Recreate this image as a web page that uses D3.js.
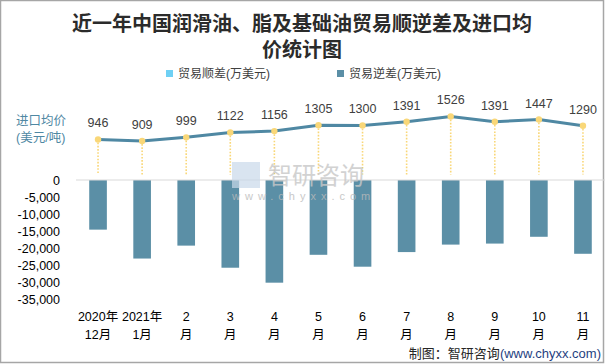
<!DOCTYPE html>
<html><head><meta charset="utf-8">
<script src="https://cdn.jsdelivr.net/npm/d3@7"></script>
<style>
html,body{margin:0;padding:0;background:#fff;}
svg{display:block;}
text{font-family:"Liberation Sans","Noto Sans CJK SC",sans-serif;}
</style></head>
<body>
<script>
const categories = ["2020年|12月","2021年|1月","2|月","3|月","4|月","5|月","6|月","7|月","8|月","9|月","10|月","11|月"];
const surplus = [0,0,0,0,0,0,0,0,0,0,0,0];
const deficit = [-14600,-23100,-19300,-25800,-30200,-22000,-25500,-21200,-19000,-18700,-16700,-21700];
const price = [946,909,999,1122,1156,1305,1300,1391,1526,1391,1447,1290];
const yTicks = [0,-5000,-10000,-15000,-20000,-25000,-30000,-35000];

const W = 605, H = 364;
const CJK = "'Liberation Sans','Noto Sans CJK SC',sans-serif";
const svg = d3.select("body").append("svg").attr("width", W).attr("height", H);
svg.append("rect").attr("x",0.5).attr("y",0.5).attr("width",W-2).attr("height",H-2)
  .attr("fill","#fff").attr("stroke","#a6a6a6").attr("stroke-width",1.5);

// title
const title = svg.append("text").attr("text-anchor","middle")
  .style("font-family",CJK).style("font-weight","bold")
  .style("font-size","20px").attr("fill","#2b2b2b");
title.append("tspan").attr("x",302).attr("y",31).text("近一年中国润滑油、脂及基础油贸易顺逆差及进口均");
title.append("tspan").attr("x",302).attr("y",57).text("价统计图");

// legend
const legend = [["贸易顺差(万美元)","#6fd0f4",166],["贸易逆差(万美元)","#5b8fa6",337]];
legend.forEach(([t,c,x])=>{
  svg.append("rect").attr("x",x).attr("y",70).attr("width",7).attr("height",7).attr("fill",c);
  svg.append("text").attr("x",x+12).attr("y",78).attr("fill","#404040")
    .style("font-family",CJK).style("font-size","12px").text(t);
});

const x = d3.scaleBand().domain(categories).range([76,605]).paddingInner(0.6).paddingOuter(0.3);
const y = d3.scaleLinear().domain([-35000,0]).range([299,180]);
const yL = d3.scaleLinear().domain([0,2000]).range([177,97.6]);

const loc = d3.formatLocale({decimal:".",thousands:",",grouping:[3],currency:["",""],minus:"-"});
const fmt = loc.format(",");

// y axis (labels only)
const yAxis = d3.axisLeft(y).tickValues(yTicks).tickFormat(fmt).tickSize(0).tickPadding(0);
const ga = svg.append("g").attr("transform","translate(60,0)").call(yAxis);
ga.select(".domain").remove();
ga.selectAll("text").attr("fill","#000").style("font-size","12.5px")
  .style("font-family","'Liberation Sans',sans-serif");

// bars
svg.append("g").selectAll("rect.d").data(deficit).join("rect")
  .attr("x",(d,i)=>x(categories[i])).attr("width",x.bandwidth())
  .attr("y",d=>y(Math.max(0,d))).attr("height",d=>Math.abs(y(d)-y(0)))
  .attr("fill","#5b8fa6");
svg.append("g").selectAll("rect.s").data(surplus).join("rect")
  .attr("x",(d,i)=>x(categories[i])).attr("width",x.bandwidth())
  .attr("y",d=>y(Math.max(0,d))).attr("height",d=>Math.abs(y(d)-y(0)))
  .attr("fill","#6fd0f4");

// zero line
svg.append("line").attr("x1",76).attr("x2",605).attr("y1",y(0)).attr("y2",y(0))
  .attr("stroke","#d9d9d9").attr("stroke-width",1.2);

// x labels
const gx = svg.append("g");
categories.forEach((c,i)=>{
  const [a,b] = c.split("|");
  const cx = x(c)+x.bandwidth()/2;
  const t = gx.append("text").attr("text-anchor","middle").attr("fill","#000")
    .style("font-size","12.5px");
  t.append("tspan").attr("x",cx).attr("y",321).text(a);
  t.append("tspan").attr("x",cx).attr("y",339).text(b);
});

// drop lines
const cxs = categories.map(c=>x(c)+x.bandwidth()/2);
svg.append("g").selectAll("line").data(price).join("line")
  .attr("x1",(d,i)=>cxs[i]).attr("x2",(d,i)=>cxs[i])
  .attr("y1",d=>yL(d)).attr("y2",yL(0)-2.5)
  .attr("stroke","#f9d778").attr("stroke-width",1.6).attr("stroke-dasharray","1.6,1.6");

// line
const line = d3.line().x((d,i)=>cxs[i]).y(d=>yL(d));
svg.append("path").datum(price).attr("d",line).attr("fill","none")
  .attr("stroke","#4f88a3").attr("stroke-width",3);
svg.append("g").selectAll("circle").data(price).join("circle")
  .attr("cx",(d,i)=>cxs[i]).attr("cy",d=>yL(d)).attr("r",3.2).attr("fill","#f9d778");
svg.append("g").selectAll("text").data(price).join("text")
  .attr("x",(d,i)=>cxs[i]).attr("y",d=>yL(d)-12).attr("text-anchor","middle")
  .attr("fill","#404040").style("font-size","12.5px").text(d=>d);

// left label
const ll = svg.append("text").attr("fill","#4f88a3")
  .style("font-family",CJK).style("font-size","12.5px");
ll.append("tspan").attr("x",16).attr("y",124.5).text("进口均价");
ll.append("tspan").attr("x",16).attr("y",141.5).text("(美元/吨)");

// watermark
svg.append("text").attr("x",268).attr("y",184).attr("fill","#c8c8c8").attr("opacity",0.8)
  .style("font-family",CJK).style("font-size","24px").text("智研咨询");
svg.append("text").attr("x",232).attr("y",200).attr("fill","#bbbbbb").attr("opacity",0.8)
  .style("font-size","11px").style("letter-spacing","5px").text("www.chyxx.com");
svg.append("rect").attr("x",232).attr("y",162).attr("width",28).attr("height",26)
  .attr("fill","#c9d9ea").attr("opacity",0.7);

// source
const src = svg.append("text").attr("text-anchor","end").attr("x",601).attr("y",358)
  .style("font-family",CJK).style("font-size","13px");
src.append("tspan").attr("fill","#262626").text("制图：智研咨询");
src.append("tspan").attr("fill","#1f3f7f").text("(www.chyxx.com)");
</script>
</body></html>
